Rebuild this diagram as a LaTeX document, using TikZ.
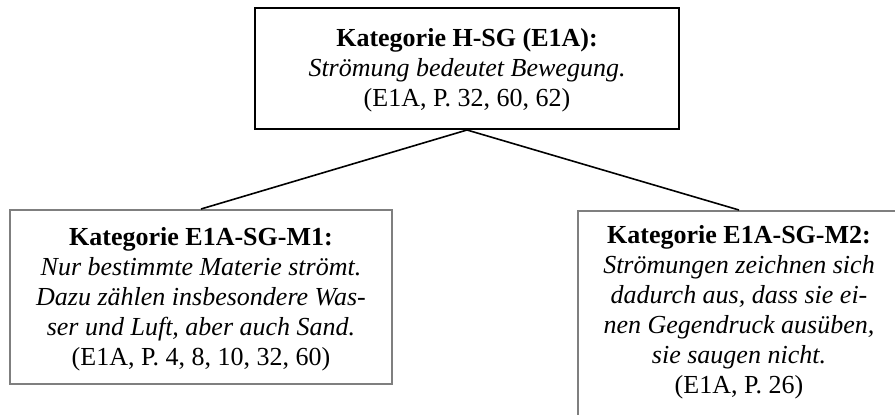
\documentclass[tikz,border=0pt]{standalone}
\usepackage{fontspec}
\setmainfont{Liberation Serif}
\definecolor{framegray}{HTML}{7F7F7F}
\tikzset{
  txt/.style={align=center, inner sep=0pt, font=\fontsize{26}{30}\selectfont},
  mainbox/.style={draw=black, line width=2pt, inner sep=0pt},
  subbox/.style={draw=framegray, line width=2pt, inner sep=0pt},
  link/.style={draw=black, line width=1.6pt}
}
\begin{document}
\begin{tikzpicture}[x=1pt, y=-1pt]
  \useasboundingbox (0,0) rectangle (895,415);

  % upper category
  \node (top) [mainbox, minimum width=424pt, minimum height=121pt] at (467,68.5) {};
  \node (toptext) [txt] at (467,70)
    {\textbf{Kategorie H-SG (E1A):}\\
     \textit{Strömung bedeutet Bewegung.}\\
     (E1A, P. 32, 60, 62)};

  % left sub-category
  \node (left) [subbox, minimum width=382pt, minimum height=174pt] at (201,297) {};
  \node (lefttext) [txt] at (201,299)
    {\textbf{Kategorie E1A-SG-M1:}\\
     \textit{Nur bestimmte Materie strömt.}\\
     \textit{Dazu zählen insbesondere Was-}\\
     \textit{ser und Luft, aber auch Sand.}\\
     (E1A, P. 4, 8, 10, 32, 60)};

  % right sub-category (runs past the page edge)
  \node (right) [subbox, anchor=north west, minimum width=324pt, minimum height=230pt] at (577,210) {};
  \node (righttext) [txt] at (739,312)
    {\textbf{Kategorie E1A-SG-M2:}\\
     \textit{Strömungen zeichnen sich}\\
     \textit{dadurch aus, dass sie ei-}\\
     \textit{nen Gegendruck ausüben,}\\
     \textit{sie saugen nicht.}\\
     (E1A, P. 26)};

  % connectors
  \coordinate (rtop) at (739,210);
  \draw[link] (top.south) -- (left.north);
  \draw[link] (top.south) -- (rtop);
\end{tikzpicture}
\end{document}
